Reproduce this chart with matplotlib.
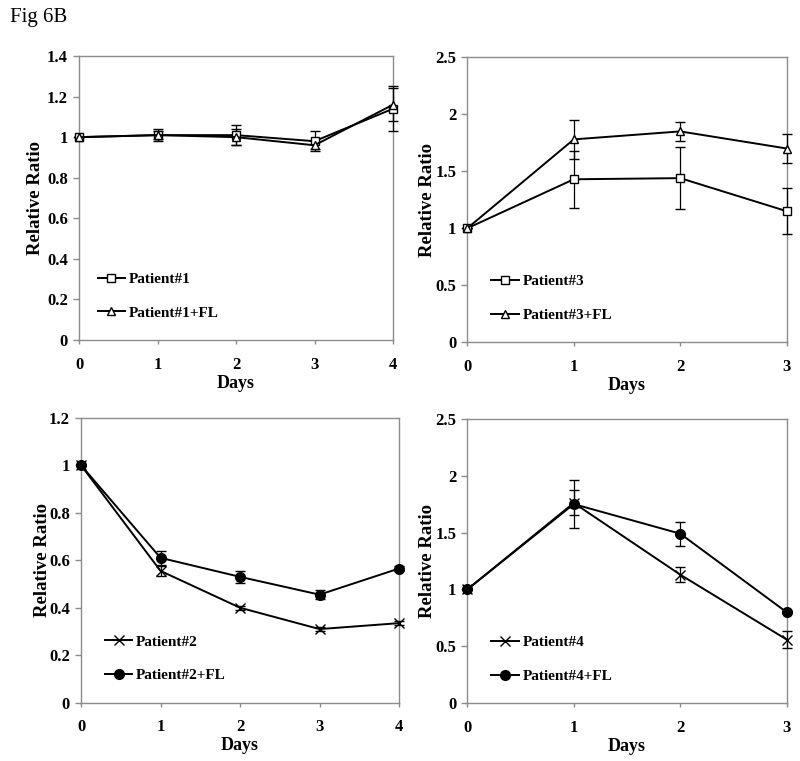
import matplotlib
matplotlib.use("Agg")
import matplotlib.pyplot as plt
from matplotlib.lines import Line2D

plt.rcParams['font.family'] = ['Liberation Serif', 'DejaVu Serif']

# ---- data ----
days_4 = [0, 1, 2, 3, 4]
days_3 = [0, 1, 2, 3]

p1 = [1.0, 1.01, 1.01, 0.98, 1.14]
p1_err = [0.0, 0.03, 0.05, 0.05, 0.11]
p1fl = [1.0, 1.01, 1.0, 0.96, 1.16]
p1fl_err = [0.0, 0.02, 0.04, 0.02, 0.08]

p3 = [1.0, 1.43, 1.44, 1.15]
p3_err = [0.0, 0.25, 0.27, 0.20]
p3fl = [1.0, 1.78, 1.85, 1.70]
p3fl_err = [0.0, 0.17, 0.08, 0.13]

p2 = [1.0, 0.555, 0.40, 0.31, 0.335]
p2_err = [0.0, 0.02, 0.008, 0.008, 0.008]
p2fl = [1.0, 0.61, 0.53, 0.455, 0.565]
p2fl_err = [0.0, 0.03, 0.025, 0.02, 0.01]

p4 = [1.0, 1.76, 1.13, 0.56]
p4_err = [0.0, 0.11, 0.065, 0.075]
p4fl = [1.0, 1.75, 1.49, 0.80]
p4fl_err = [0.0, 0.21, 0.105, 0.01]

panels = [
    dict(rect=[0.09875, 0.5532, 0.3925, 0.3732], x=days_4,
         s1=(p1, p1_err, 's', 'white'), s2=(p1fl, p1fl_err, '^', 'white'),
         ylim=(0, 1.4), yticks=[0, 0.2, 0.4, 0.6, 0.8, 1.0, 1.2, 1.4],
         ylabels=['0', '0.2', '0.4', '0.6', '0.8', '1', '1.2', '1.4'],
         names=['Patient#1', 'Patient#1+FL'], ylab_x=-0.138, leg_x=0.04),
    dict(rect=[0.5841, 0.5502, 0.3993, 0.3745], x=days_3,
         s1=(p3, p3_err, 's', 'white'), s2=(p3fl, p3fl_err, '^', 'white'),
         ylim=(0, 2.5), yticks=[0, 0.5, 1.0, 1.5, 2.0, 2.5],
         ylabels=['0', '0.5', '1', '1.5', '2', '2.5'],
         names=['Patient#3', 'Patient#3+FL'], ylab_x=-0.123, leg_x=0.056),
    dict(rect=[0.10125, 0.0766, 0.3975, 0.3745], x=days_4,
         s1=(p2, p2_err, 'x', 'black'), s2=(p2fl, p2fl_err, 'o', 'black'),
         ylim=(0, 1.2), yticks=[0, 0.2, 0.4, 0.6, 0.8, 1.0, 1.2],
         ylabels=['0', '0.2', '0.4', '0.6', '0.8', '1', '1.2'],
         names=['Patient#2', 'Patient#2+FL'], ylab_x=-0.1226, leg_x=0.056),
    dict(rect=[0.5841, 0.0758, 0.3993, 0.374], x=days_3,
         s1=(p4, p4_err, 'x', 'black'), s2=(p4fl, p4fl_err, 'o', 'black'),
         ylim=(0, 2.5), yticks=[0, 0.5, 1.0, 1.5, 2.0, 2.5],
         ylabels=['0', '0.5', '1', '1.5', '2', '2.5'],
         names=['Patient#4', 'Patient#4+FL'], ylab_x=-0.123, leg_x=0.056),
]

fig = plt.figure(figsize=(8.0, 7.61), dpi=100)
fig.text(0.012, 0.977, 'Fig 6B', fontsize=15, ha='left', va='center')

spine_col = '#8c8c8c'
for p in panels:
    ax = fig.add_axes(p['rect'])
    x = p['x']
    handles = []
    for (vals, errs, mk, fc), name in zip([p['s1'], p['s2']], p['names']):
        ms = 7 if mk in ('o', 'x') else 6
        ax.errorbar(x, vals, yerr=errs, color='black', lw=1.4, ecolor='black',
                    elinewidth=0.9, capsize=3.5, capthick=0.9,
                    marker=mk, markersize=ms, markerfacecolor=fc,
                    markeredgecolor='black', markeredgewidth=1.0, clip_on=False,
                    zorder=3)
        handles.append(Line2D([], [], color='black', lw=1.4, marker=mk,
                              markersize=ms, markerfacecolor=fc,
                              markeredgecolor='black', markeredgewidth=1.0,
                              label=name))
    ax.set_xlim(x[0], x[-1])
    ax.set_ylim(*p['ylim'])
    ax.set_xticks(x)
    ax.set_xticklabels([str(v) for v in x])
    ax.set_yticks(p['yticks'])
    ax.set_yticklabels(p['ylabels'])
    for sp in ax.spines.values():
        sp.set_color(spine_col)
        sp.set_linewidth(1.0)
    ax.tick_params(axis='y', direction='out', length=4, width=1.0,
                   color=spine_col, labelsize=12, pad=4)
    ax.tick_params(axis='x', direction='out', length=3, width=1.0,
                   color=spine_col, labelsize=12, pad=9)
    for lab in ax.get_xticklabels() + ax.get_yticklabels():
        lab.set_fontweight('bold')
    ax.set_xlabel('Days', fontsize=13, fontweight='bold', va='center')
    ax.xaxis.set_label_coords(0.5, -43.0 / (p['rect'][3] * 761))
    ax.set_ylabel('Relative Ratio', fontsize=13.5, fontweight='bold', va='center')
    ax.yaxis.set_label_coords(p['ylab_x'], 0.5)
    ax.legend(handles=handles, loc='lower left', bbox_to_anchor=(p['leg_x'], 0.05),
              frameon=False, prop={'weight': 'bold', 'size': 11},
              handlelength=1.8, handletextpad=0.25, labelspacing=1.3,
              borderaxespad=0.0)

fig.savefig('out.png', dpi=100)
